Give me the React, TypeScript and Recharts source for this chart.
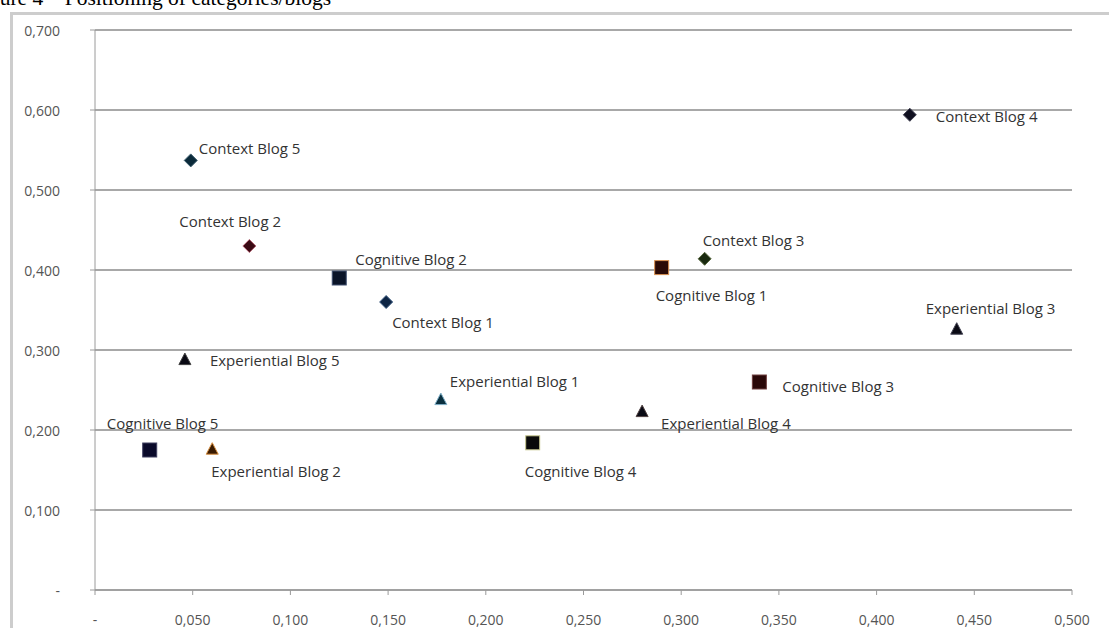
import {CartesianGrid, Scatter, ScatterChart, XAxis, YAxis} from "recharts";

const contextNames = ["Context Blog 1", "Context Blog 2", "Context Blog 3", "Context Blog 4", "Context Blog 5"];
const contextX = [0.149, 0.079, 0.312, 0.417, 0.049];
const contextY = [0.360, 0.430, 0.414, 0.594, 0.537];

const cognitiveNames = ["Cognitive Blog 1", "Cognitive Blog 2", "Cognitive Blog 3", "Cognitive Blog 4", "Cognitive Blog 5"];
const cognitiveX = [0.290, 0.125, 0.340, 0.224, 0.028];
const cognitiveY = [0.403, 0.390, 0.260, 0.184, 0.175];

const experientialNames = ["Experiential Blog 1", "Experiential Blog 2", "Experiential Blog 3", "Experiential Blog 4", "Experiential Blog 5"];
const experientialX = [0.177, 0.060, 0.441, 0.280, 0.046];
const experientialY = [0.238, 0.176, 0.326, 0.223, 0.288];

const xTicks = [0, 0.05, 0.1, 0.15, 0.2, 0.25, 0.3, 0.35, 0.4, 0.45, 0.5];
const yTicks = [0, 0.1, 0.2, 0.3, 0.4, 0.5, 0.6, 0.7];

// label placement relative to the marker: [dx to text start, dy to text middle]
const labelOffset: Record<string, [number, number]> = {
    "Context Blog 1": [6, 20],
    "Context Blog 2": [-70, -25],
    "Context Blog 3": [-2, -19],
    "Context Blog 4": [26, 1],
    "Context Blog 5": [8, -12],
    "Cognitive Blog 1": [-6, 27],
    "Cognitive Blog 2": [16, -19],
    "Cognitive Blog 3": [23, 4],
    "Cognitive Blog 4": [-8, 28],
    "Cognitive Blog 5": [-43, -27],
    "Experiential Blog 1": [9, -19],
    "Experiential Blog 2": [-1, 22],
    "Experiential Blog 3": [-31, -21],
    "Experiential Blog 4": [19, 11],
    "Experiential Blog 5": [25, 0],
};

const markerColor: Record<string, [string, string]> = {
    "Context Blog 1": ["#0e2545", "#3a5a80"],
    "Context Blog 2": ["#3a0a14", "#b06070"],
    "Context Blog 3": ["#1a2a10", "#5a6a40"],
    "Context Blog 4": ["#101020", "#404050"],
    "Context Blog 5": ["#0b2a3a", "#406070"],
    "Cognitive Blog 1": ["#2a0a06", "#d89050"],
    "Cognitive Blog 2": ["#0a1428", "#405070"],
    "Cognitive Blog 3": ["#2a0808", "#704040"],
    "Cognitive Blog 4": ["#0a0a0a", "#c8c890"],
    "Cognitive Blog 5": ["#0a0a2a", "#404060"],
    "Experiential Blog 1": ["#0a3040", "#80b0c8"],
    "Experiential Blog 2": ["#3a1a00", "#d89040"],
    "Experiential Blog 3": ["#0a0a14", "#404050"],
    "Experiential Blog 4": ["#0a0a14", "#504040"],
    "Experiential Blog 5": ["#0a0a14", "#404040"],
};

const toPoints = (names: string[], xs: number[], ys: number[]) =>
    names.map((name, i) => ({name, x: xs[i], y: ys[i]}));

const contextData = toPoints(contextNames, contextX, contextY);
const cognitiveData = toPoints(cognitiveNames, cognitiveX, cognitiveY);
const experientialData = toPoints(experientialNames, experientialX, experientialY);

const fmt = (v: number) => (v === 0 ? "-" : v.toFixed(3).replace(".", ","));

const labelFont = "'Open Sans', 'DejaVu Sans', sans-serif";

const PointLabel = ({cx, cy, name}: any) => {
    const [dx, dy] = labelOffset[name] || [10, 0];
    return (
        <text x={cx + dx} y={cy + dy} dominantBaseline="central" fontSize={15}
              fontFamily={labelFont} fill="#333">
            {name}
        </text>
    );
};

const makeShape = (kind: string) => (props: any) => {
    const {cx, cy, payload} = props;
    const [fill, stroke] = markerColor[payload.name] || ["#0a0a14", "#444"];
    let mark;
    if (kind === "diamond") {
        mark = <polygon points={`${cx},${cy - 6.5} ${cx + 6.5},${cy} ${cx},${cy + 6.5} ${cx - 6.5},${cy}`}
                        fill={fill} stroke={stroke} strokeWidth={1}/>;
    } else if (kind === "square") {
        mark = <rect x={cx - 7} y={cy - 7} width={14} height={14} fill={fill} stroke={stroke} strokeWidth={1}/>;
    } else {
        mark = <polygon points={`${cx},${cy - 6.5} ${cx + 6},${cy + 5} ${cx - 6},${cy + 5}`}
                        fill={fill} stroke={stroke} strokeWidth={1}/>;
    }
    return (
        <g>
            {mark}
            <PointLabel cx={cx} cy={cy} name={payload.name}/>
        </g>
    );
};

const YTick = ({x, y, payload}: any) => (
    <text x={x - 28} y={y} textAnchor="end" dominantBaseline="central" fontSize={14}
          fontFamily={labelFont} fill="#555">
        {fmt(payload.value)}
    </text>
);

const XTick = ({x, y, payload}: any) => (
    <text x={x} y={y + 22} textAnchor="middle" dominantBaseline="central" fontSize={14}
          fontFamily={labelFont} fill="#555">
        {fmt(payload.value)}
    </text>
);

export default function App() {
    return (
        <div style={{position: "absolute", left: 0, top: 0, width: 1109, height: 628, overflow: "hidden", background: "#fff"}}>
            <div style={{
                position: "absolute", left: -29, top: -14, fontFamily: "'Liberation Serif', 'Times New Roman', serif",
                fontSize: 21.5, whiteSpace: "nowrap", color: "#000",
            }}>
                Figure 4 – Positioning of categories/blogs
            </div>
            <div style={{
                position: "absolute", left: 10, top: 12, width: 1200, height: 700,
                border: "3px solid #cdcdcd", boxSizing: "border-box",
            }}/>
            <div style={{position: "absolute", left: 0, top: 0}}>
                <ScatterChart width={1109} height={640} margin={{top: 30, right: 37, bottom: 0, left: 0}}>
                    <CartesianGrid vertical={false} stroke="#a8a8a8" strokeWidth={2}/>
                    <XAxis type="number" dataKey="x" domain={[0, 0.5]} ticks={xTicks} height={50}
                           stroke="#9a9a9a" tickSize={5} tick={<XTick/>} interval={0}/>
                    <YAxis type="number" dataKey="y" domain={[0, 0.7]} ticks={yTicks} width={95}
                           stroke="#9a9a9a" tickSize={5} tick={<YTick/>} interval={0}/>
                    <Scatter data={contextData} shape={makeShape("diamond")} isAnimationActive={false}/>
                    <Scatter data={cognitiveData} shape={makeShape("square")} isAnimationActive={false}/>
                    <Scatter data={experientialData} shape={makeShape("triangle")} isAnimationActive={false}/>
                </ScatterChart>
            </div>
        </div>
    );
}
